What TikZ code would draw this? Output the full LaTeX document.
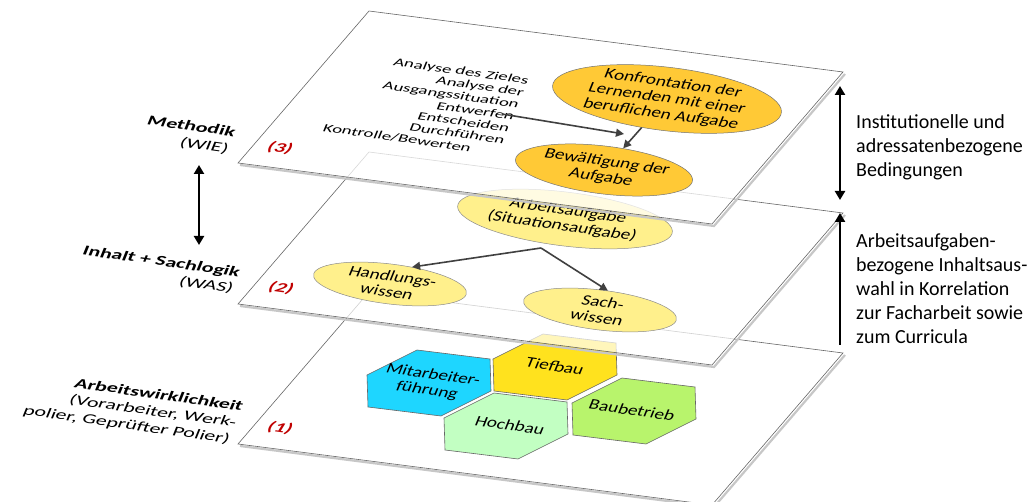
\documentclass[tikz,border=0pt]{standalone}
\usepackage{fontspec}
\setmainfont{Carlito}
\usepackage{xcolor}
\usetikzlibrary{shapes,arrows.meta,positioning}

\definecolor{goldfill}{HTML}{FFC936}
\definecolor{palefill}{HTML}{FFF08C}
\definecolor{hexcyan}{HTML}{1ED6FF}
\definecolor{hexyellow}{HTML}{FFE21E}
\definecolor{hexmint}{HTML}{C2FFC2}
\definecolor{hexgreen}{HTML}{B8F46C}
\definecolor{levelred}{HTML}{C00000}

\begin{document}
\begin{tikzpicture}[
    x=1pt, y=-1pt,
    >={Triangle[length=8pt,width=8pt]},
    plane/.style={draw=black!60, line width=0.6pt, fill=white},
    planeshadow/.style={draw=black!22, line width=2.2pt},
    flat/.style={transform shape, rotate=-8, xslant=0.25, xscale=1.27, inner sep=0pt, align=center, font=\fontsize{15}{16}\selectfont},
    gold/.style={flat, ellipse, draw=black!55, line width=0.5pt, fill=goldfill},
    pale/.style={flat, ellipse, draw=black!45, line width=0.5pt, fill=palefill},
    level/.style={flat, xscale=1.22, text=levelred, font=\fontsize{14}{16}\selectfont\bfseries\itshape},
    side/.style={flat, xscale=1.22, align=right, font=\fontsize{14}{17}\selectfont},
    hexa/.style={draw=black!60, line width=0.6pt},
    link/.style={->, draw=black!75, line width=1.6pt},
    bar/.style={draw=black, line width=2.6pt, >={Triangle[length=9pt,width=10pt]}},
    note/.style={anchor=west, align=left, inner sep=0pt, font=\fontsize{20}{24}\selectfont}
]
\useasboundingbox (0,0) rectangle (1028,502);

% Level 1
\draw[planeshadow] (845,355) -- (714,507) -- (240,446);
\draw[plane] (369,292) -- (843,353) -- (712,505) -- (238,444) -- cycle;
\foreach \pos/\col in {{(429,383)}/hexcyan, {(555,367)}/hexyellow, {(506,426)}/hexmint, {(634,411)}/hexgreen}
    \draw[hexa, fill=\col] \pos ++(-62,-8) -- ++(50,-25) -- ++(73,9) -- ++(1,32) -- ++(-50,25) -- ++(-73,-9) -- cycle;
\node[flat] (mitarbeiter) at (430,383) {Mitarbeiter-\\führung};
\node[flat] (tiefbau) at (555,366) {Tiefbau};
\node[flat] (hochbau) at (510,425) {Hochbau};
\node[flat] (baubetrieb) at (632,410) {Baubetrieb};
\node[level] (l1) at (280,428) {(1)};

% Level 2
\draw[planeshadow] (845,215) -- (714,367) -- (240,306);
\draw[plane, fill opacity=0.7] (369,152) -- (843,213) -- (712,365) -- (238,304) -- cycle;
\node[level] (l2) at (281,288) {(2)};
\node[pale, minimum width=170, minimum height=54] (auftrag) at (565,219) {Arbeitsaufgabe\\(Situationsaufgabe)};
\node[pale, minimum width=121, minimum height=40] (handlung) at (390,284) {Handlungs-\\wissen};
\node[pale, minimum width=121, minimum height=40] (sach) at (600,310) {Sach-\\wissen};
\coordinate (gabel) at (541,248);
\draw[link] (gabel) -- (handlung.60);
\draw[link] (gabel) -- (sach.north);

% Level 3
\draw[planeshadow] (845,74) -- (714,226) -- (240,165);
\draw[plane, fill opacity=0.75] (369,11) -- (843,72) -- (712,224) -- (238,163) -- cycle;
\node[level] (l3) at (280,148) {(3)};
\node[flat, align=right, xscale=1.27, font=\fontsize{11.5}{12.5}\selectfont] (schritte) at (426,104)
    {Analyse des Zieles\\Analyse der\hspace*{3pt}\\Ausgangssituation\hspace*{6pt}\\Entwerfen\hspace*{9pt}\\
     Entscheiden\hspace*{12pt}\\Durchführen\hspace*{15pt}\\Kontrolle/Bewerten\hspace*{18pt}};
\node[gold, minimum width=181, minimum height=60] (konfront) at (667,99) {Konfrontation der\\Lernenden mit einer\\beruflichen Aufgabe};
\node[gold, minimum width=140, minimum height=48] (bewaelt) at (604,170) {Bewältigung der\\Aufgabe};
\coordinate (start) at (502,114);
\coordinate (ziel) at (624,134);
\draw[link] (start) -- (ziel);
\draw[link] (konfront) -- (bewaelt);

% Left labels
\node[side] (methodik) at (188,135) {\textbf{Methodik}\\(WIE)};
\node[side] (inhalt) at (158,270) {\textbf{Inhalt + Sachlogik}\\(WAS)};
\node[side] (praxis) at (133,409) {\textbf{Arbeitswirklichkeit}\\(Vorarbeiter, Werk-\\polier, Geprüfter Polier)};
\coordinate (mo) at (199,165);
\coordinate (mu) at (199,245);
\draw[bar, <->] (mo) -- (mu);

% Right notes
\coordinate (ro) at (840,86);
\coordinate (rm) at (840,200);
\draw[bar, <->] (ro) -- (rm);
\coordinate (uo) at (840,213);
\coordinate (uu) at (840,345);
\draw[bar, <-] (uo) -- (uu);
\node[note] (bedingung) at (856,147) {Institutionelle und\\adressatenbezogene\\Bedingungen};
\node[note] (auswahl) at (856,289) {Arbeitsaufgaben-\\bezogene Inhaltsaus-\\wahl in Korrelation\\zur Facharbeit sowie\\zum Curricula};
\end{tikzpicture}
\end{document}
